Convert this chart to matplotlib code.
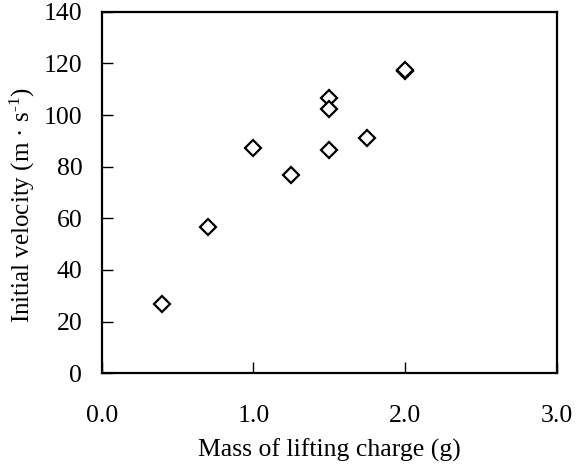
import matplotlib
matplotlib.use("Agg")
import matplotlib.pyplot as plt

plt.rcParams['font.family'] = ['Liberation Serif', 'DejaVu Serif']
plt.rcParams['mathtext.default'] = 'regular'

mass_g = [0.4, 0.7, 1.0, 1.25, 1.5, 1.5, 1.5, 1.75, 2.0, 2.0]
velocity = [26.7, 56.5, 87.1, 76.7, 106.5, 102.4, 86.3, 91.0, 117.0, 117.3]

x_ticks = [0.0, 1.0, 2.0, 3.0]
x_tick_labels = ['0.0', '1.0', '2.0', '3.0']
y_ticks = [0, 20, 40, 60, 80, 100, 120, 140]

fig = plt.figure(figsize=(5.76, 4.68), dpi=100)
ax = fig.add_axes([0.1766, 0.2024, 0.7899, 0.7726])

ax.plot(mass_g, velocity, linestyle='none', marker='D', markersize=8,
        markerfacecolor='white', markeredgecolor='black', markeredgewidth=1.6)

ax.set_xlim(0, 3)
ax.set_ylim(0, 140)
ax.set_xticks(x_ticks)
ax.set_xticklabels(x_tick_labels)
ax.set_yticks(y_ticks)

for s in ax.spines.values():
    s.set_linewidth(1.6)

ax.tick_params(axis='both', direction='in', length=8, width=1.0, labelsize=18.5)
ax.tick_params(axis='x', pad=23)
ax.tick_params(axis='y', pad=14)

ax.set_xlabel('Mass of lifting charge (g)', fontsize=18.5, labelpad=8)
ax.set_ylabel('Initial velocity (m · s$^{\u2010\\mathregular{1}}$)', fontsize=18)
ax.yaxis.set_label_coords(-0.142, 0.465)

fig.savefig('out.png', dpi=100)
